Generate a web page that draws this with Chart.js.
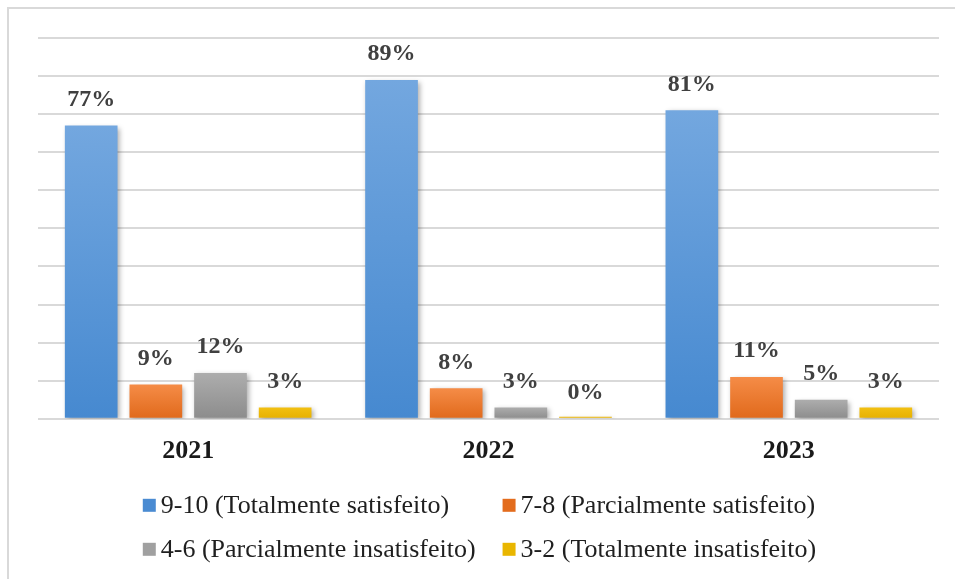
<!DOCTYPE html>
<html>
<head>
<meta charset="utf-8">
<script src="https://cdn.jsdelivr.net/npm/chart.js@4/dist/chart.umd.min.js"></script>
<style>
  html, body { margin: 0; padding: 0; background: #fff; overflow: hidden; }
  #wrap { position: relative; width: 955px; height: 579px; }
  #frame { position: absolute; left: 7px; top: 7px; width: 990px; height: 620px;
           border: 2px solid #d9d9d9; box-sizing: border-box; }
  canvas { position: absolute; left: 0; top: 0; }
</style>
</head>
<body>
<div id="wrap">
  <div id="frame"></div>
  <canvas id="c" width="955" height="579"></canvas>
</div>
<script>
// Satisfaction survey results per year (percent of respondents)
const years = ['2021', '2022', '2023'];
const seriesNames = [
  '9-10 (Totalmente satisfeito)',
  '7-8 (Parcialmente satisfeito)',
  '4-6 (Parcialmente insatisfeito)',
  '3-2 (Totalmente insatisfeito)'
];
const totalmenteSatisfeito     = [77, 89, 81];
const parcialmenteSatisfeito   = [9, 8, 11];
const parcialmenteInsatisfeito = [12, 3, 5];
const totalmenteInsatisfeito   = [3, 0, 3];

const yMin = 0, yMax = 100, yStep = 10;

// light (top) and dark (bottom) shades for each series
const shades = [
  ['#73a7df', '#4689d0'],
  ['#f58c47', '#e0691b'],
  ['#adadad', '#8c8c8c'],
  ['#f2c012', '#e6b000']
];
const legendColors = ['#4a8bd2', '#e36c1d', '#a0a0a0', '#e9b600'];

const serifFont = "'Liberation Serif', 'Times New Roman', serif";

function barGradient(light, dark) {
  return (ctx) => {
    const chart = ctx.chart;
    if (!chart.chartArea || ctx.type !== 'data') return dark;
    const y = chart.scales.y;
    const top = y.getPixelForValue(ctx.raw);
    const base = y.getPixelForValue(0);
    if (base - top < 1) return dark;
    const g = chart.ctx.createLinearGradient(0, top, 0, base);
    g.addColorStop(0, light);
    g.addColorStop(1, dark);
    return g;
  };
}

// soft drop shadow behind the bars
const barShadow = {
  id: 'barShadow',
  beforeDatasetsDraw(chart) {
    const c = chart.ctx;
    c.save();
    c.shadowColor = 'rgba(0,0,0,0.32)';
    c.shadowBlur = 5;
    c.shadowOffsetX = 2;
    c.shadowOffsetY = 2;
  },
  afterDatasetsDraw(chart) {
    chart.ctx.restore();
  }
};

// percentage labels above every bar
const valueLabels = {
  id: 'valueLabels',
  afterDraw(chart) {
    const c = chart.ctx;
    const y = chart.scales.y;
    c.save();
    c.font = 'bold 24px ' + serifFont;
    c.fillStyle = '#404040';
    c.textAlign = 'center';
    c.textBaseline = 'middle';
    chart.data.datasets.forEach((ds, i) => {
      const meta = chart.getDatasetMeta(i);
      meta.data.forEach((bar, j) => {
        const v = ds.data[j];
        c.fillText(v + '%', bar.x, y.getPixelForValue(v) - 26);
      });
    });
    c.restore();
  }
};

// two-column legend below the category labels
const gridLegend = {
  id: 'gridLegend',
  afterDraw(chart) {
    const c = chart.ctx;
    c.save();
    c.font = '26px ' + serifFont;
    const names = chart.data.datasets.map(d => d.label);
    const box = 13, gapText = 5, colGap = 27;
    const w1 = Math.max(c.measureText(names[0]).width, c.measureText(names[2]).width);
    const w2 = Math.max(c.measureText(names[1]).width, c.measureText(names[3]).width);
    const total = box + gapText + w1 + colGap + box + gapText + w2;
    const cx = 479.5;
    const x0 = cx - total / 2;
    const x1 = x0 + box + gapText + w1 + colGap;
    const baseRow = chart.chartArea.bottom;
    const rows = [baseRow + 94, baseRow + 138];
    c.textBaseline = 'alphabetic';
    c.textAlign = 'left';
    names.forEach((name, i) => {
      const x = (i % 2 === 0) ? x0 : x1;
      const yb = rows[Math.floor(i / 2)];
      c.fillStyle = legendColors[i];
      c.fillRect(x, yb - box - 1, box, box);
      c.fillStyle = '#1f1f1f';
      c.fillText(name, x + box + gapText, yb);
    });
    c.restore();
  }
};

const seriesValues = [totalmenteSatisfeito, parcialmenteSatisfeito, parcialmenteInsatisfeito, totalmenteInsatisfeito];

new Chart(document.getElementById('c'), {
  type: 'bar',
  data: {
    labels: years,
    datasets: seriesValues.map((vals, i) => ({
      label: seriesNames[i],
      data: vals,
      backgroundColor: barGradient(shades[i][0], shades[i][1]),
      borderWidth: 0,
      minBarLength: i === 3 ? 2 : 0
    }))
  },
  options: {
    responsive: false,
    animation: false,
    devicePixelRatio: 1,
    layout: { padding: { top: 38, left: 38, right: 16, bottom: 95 } },
    datasets: { bar: { categoryPercentage: 0.861, barPercentage: 0.815 } },
    plugins: { legend: { display: false }, tooltip: { enabled: false } },
    scales: {
      x: {
        grid: { display: false, drawTicks: false },
        border: { display: false },
        ticks: {
          padding: 17,
          color: '#1a1a1a',
          font: { family: serifFont, size: 26, weight: 'bold' }
        }
      },
      y: {
        min: yMin,
        max: yMax,
        ticks: { display: false, stepSize: yStep },
        grid: { color: '#d9d9d9', lineWidth: 2, drawTicks: false },
        border: { display: false }
      }
    }
  },
  plugins: [barShadow, valueLabels, gridLegend]
});
</script>
</body>
</html>
